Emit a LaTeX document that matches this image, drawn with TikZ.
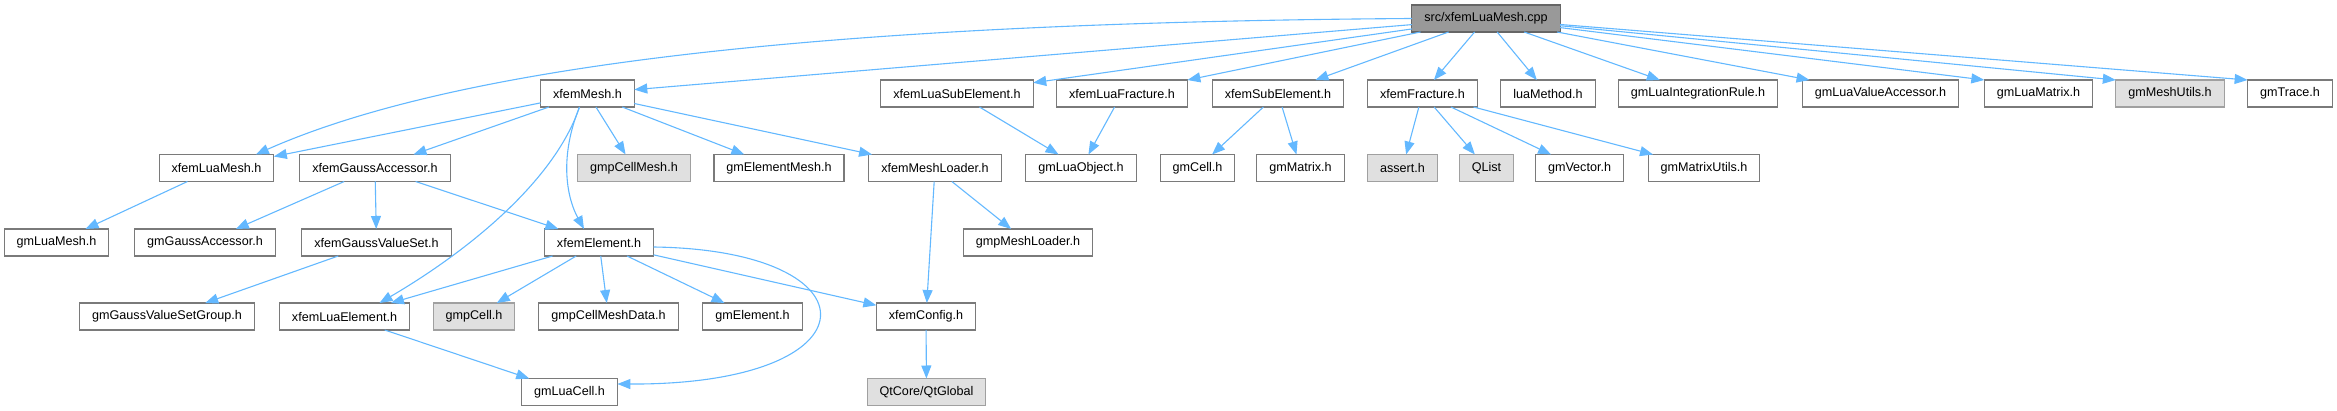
\documentclass[tikz,border=0pt]{standalone}
\usepackage{fontspec}
\setmainfont{Liberation Sans}
\usetikzlibrary{arrows.meta}
\definecolor{edgeblue}{HTML}{63B8FF}
\definecolor{rootfill}{HTML}{999999}
\definecolor{rootline}{HTML}{666666}
\definecolor{fileline}{HTML}{7A7A7A}
\definecolor{extfill}{HTML}{E0E0E0}
\definecolor{extline}{HTML}{A0A0A0}

\begin{document}
\begin{tikzpicture}[x=1pt,y=-1pt,
  file/.style={draw=fileline,fill=white,line width=1.1pt,minimum height=27pt,inner xsep=12.5pt,inner ysep=0pt,outer sep=0pt,font=\fontsize{12.6pt}{15pt}\selectfont},
  rootfile/.style={file,draw=rootline,fill=rootfill},
  extfile/.style={file,draw=extline,fill=extfill},
  dep/.style={draw=edgeblue,line width=1.1pt,-{Triangle[length=13pt,width=10pt]}}]
\useasboundingbox (0,0) rectangle (2337,411);
\node[rootfile] (root) at (1486,18.5) {src/xfemLuaMesh.cpp};
\node[file] (xfemMesh) at (587.5,93.5) {xfemMesh.h};
\node[file] (xfemLuaSubElement) at (957,93.5) {xfemLuaSubElement.h};
\node[file] (xfemLuaFracture) at (1122,93.5) {xfemLuaFracture.h};
\node[file] (xfemSubElement) at (1278,93.5) {xfemSubElement.h};
\node[file] (xfemFracture) at (1422.5,93.5) {xfemFracture.h};
\node[file] (luaMethod) at (1548,93.5) {luaMethod.h};
\node[file] (gmLuaIntegrationRule) at (1698,93.5) {gmLuaIntegrationRule.h};
\node[file] (gmLuaValueAccessor) at (1880.5,93.5) {gmLuaValueAccessor.h};
\node[file] (gmLuaMatrix) at (2038.5,93.5) {gmLuaMatrix.h};
\node[extfile] (gmMeshUtils) at (2170,93.5) {gmMeshUtils.h};
\node[file] (gmTrace) at (2290,93.5) {gmTrace.h};
\node[file] (xfemLuaMesh) at (216.5,168) {xfemLuaMesh.h};
\node[file] (xfemGaussAccessor) at (375,168) {xfemGaussAccessor.h};
\node[extfile] (gmpCellMesh) at (634,168) {gmpCellMesh.h};
\node[file] (gmElementMesh) at (779,168) {gmElementMesh.h};
\node[file] (xfemMeshLoader) at (935,168) {xfemMeshLoader.h};
\node[file] (gmLuaObject) at (1081,168) {gmLuaObject.h};
\node[file] (gmCell) at (1197.5,168) {gmCell.h};
\node[file] (gmMatrix) at (1300.5,168) {gmMatrix.h};
\node[extfile] (assert) at (1402.5,168) {assert.h};
\node[extfile] (QList) at (1486.5,168) {QList};
\node[file] (gmVector) at (1579.5,168) {gmVector.h};
\node[file] (gmMatrixUtils) at (1704,168) {gmMatrixUtils.h};
\node[file] (gmLuaMesh) at (56.5,242.5) {gmLuaMesh.h};
\node[file] (gmGaussAccessor) at (205,242.5) {gmGaussAccessor.h};
\node[file] (xfemGaussValueSet) at (376.5,242.5) {xfemGaussValueSet.h};
\node[file] (xfemElement) at (599,242.5) {xfemElement.h};
\node[file] (gmpMeshLoader) at (1028,242.5) {gmpMeshLoader.h};
\node[file] (gmGaussValueSetGroup) at (167,316.5) {gmGaussValueSetGroup.h};
\node[file] (xfemLuaElement) at (344.5,316.5) {xfemLuaElement.h};
\node[extfile] (gmpCell) at (474,316.5) {gmpCell.h};
\node[file] (gmpCellMeshData) at (608.5,316.5) {gmpCellMeshData.h};
\node[file] (gmElement) at (752.5,316.5) {gmElement.h};
\node[file] (xfemConfig) at (926,316.5) {xfemConfig.h};
\node[file] (gmLuaCell) at (569.5,392) {gmLuaCell.h};
\node[extfile] (QtGlobal) at (926.5,392) {QtCore/QtGlobal};
\draw[dep] (root.west) .. controls (900,22) and (480,55) .. ([xshift=-18pt]xfemLuaMesh.north east);
\draw[dep] (root) -- (xfemMesh);
\draw[dep] (root) -- (xfemLuaSubElement);
\draw[dep] (root) -- (xfemLuaFracture);
\draw[dep] (root) -- (xfemSubElement);
\draw[dep] (root) -- (xfemFracture);
\draw[dep] (root) -- (luaMethod);
\draw[dep] (root) -- (gmLuaIntegrationRule);
\draw[dep] (root) -- (gmLuaValueAccessor);
\draw[dep] (root) -- (gmLuaMatrix.north west);
\draw[dep] (root) -- (gmMeshUtils.north west);
\draw[dep] (root) -- (gmTrace.north west);
\draw[dep] (xfemMesh) -- (xfemLuaMesh);
\draw[dep] (xfemMesh) -- (xfemGaussAccessor);
\draw[dep] ([xshift=-8pt]xfemMesh.south) .. controls (555,180) and (470,250) .. ([xshift=35pt]xfemLuaElement.north);
\draw[dep] ([xshift=-8pt]xfemMesh.south) .. controls (558,160) and (568,200) .. ([xshift=-15pt]xfemElement.north);
\draw[dep] (xfemMesh) -- (gmpCellMesh);
\draw[dep] (xfemMesh) -- (gmElementMesh);
\draw[dep] (xfemMesh) -- (xfemMeshLoader);
\draw[dep] (xfemLuaMesh) -- (gmLuaMesh);
\draw[dep] (xfemGaussAccessor) -- (gmGaussAccessor);
\draw[dep] (xfemGaussAccessor) -- (xfemGaussValueSet);
\draw[dep] (xfemGaussAccessor) -- (xfemElement);
\draw[dep] (xfemGaussValueSet) -- (gmGaussValueSetGroup);
\draw[dep] (xfemElement) -- (xfemLuaElement);
\draw[dep] (xfemElement) -- (gmpCell);
\draw[dep] (xfemElement) -- (gmpCellMeshData);
\draw[dep] (xfemElement) -- (gmElement);
\draw[dep] (xfemElement) -- (xfemConfig);
\draw[dep] ([yshift=-4.5pt]xfemElement.east) .. controls (880,250) and (880,385) .. ([yshift=8pt]gmLuaCell.east);
\draw[dep] (xfemLuaElement) -- (gmLuaCell);
\draw[dep] (xfemMeshLoader) -- (xfemConfig);
\draw[dep] (xfemMeshLoader) -- (gmpMeshLoader);
\draw[dep] (xfemConfig) -- (QtGlobal);
\draw[dep] (xfemLuaSubElement) -- (gmLuaObject);
\draw[dep] (xfemLuaFracture) -- (gmLuaObject);
\draw[dep] (xfemSubElement) -- (gmCell);
\draw[dep] (xfemSubElement) -- (gmMatrix);
\draw[dep] (xfemFracture) -- (assert);
\draw[dep] (xfemFracture) -- (QList);
\draw[dep] (xfemFracture) -- (gmVector);
\draw[dep] (xfemFracture) -- (gmMatrixUtils);
\end{tikzpicture}
\end{document}
